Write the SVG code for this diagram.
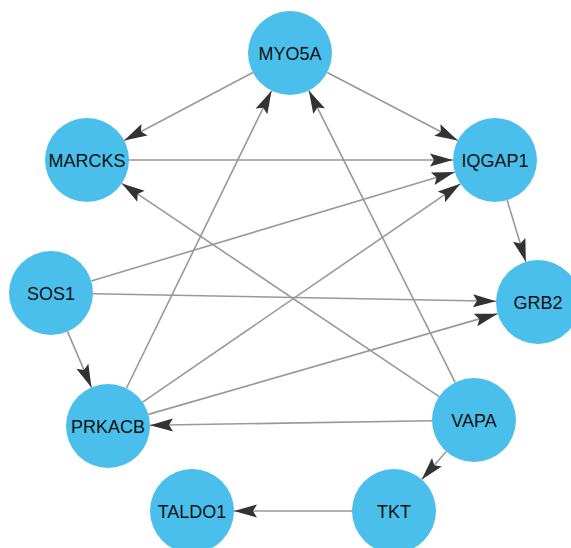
<svg xmlns="http://www.w3.org/2000/svg" width="571" height="548" viewBox="0 0 571 548">
<style>
.node circle{fill:#4ABFEB;}
.node text{font-family:"Liberation Sans",Arial,Helvetica,sans-serif;font-size:18px;fill:#111;text-anchor:middle;}
.edges line{stroke:#999;stroke-width:1.6;fill:none;marker-end:url(#arrow);}
</style>
<defs>
<marker id="arrow" viewBox="-24 -8 26 16" refX="0" refY="0" markerWidth="26" markerHeight="16" markerUnits="userSpaceOnUse" orient="auto">
<path d="M0,0 L-23,-6.5 L-19,0 L-23,6.5 Z" fill="#333"/>
</marker>
</defs>
<rect width="571" height="548" fill="#fff"/>
<g id="edges" class="edges">
<line x1="252.85" y1="72.58" x2="124.15" y2="140.42"/>
<line x1="327.23" y1="72.43" x2="457.77" y2="140.57"/>
<line x1="129" y1="160" x2="453" y2="160"/>
<line x1="91.24" y1="280.95" x2="454.76" y2="172.05"/>
<line x1="142.61" y1="402.21" x2="460.39" y2="183.79"/>
<line x1="507.17" y1="200.2" x2="525.83" y2="261.8"/>
<line x1="92.99" y1="293.78" x2="496.01" y2="301.22"/>
<line x1="148.36" y1="414.36" x2="497.64" y2="313.64"/>
<line x1="67.54" y1="331.6" x2="91.46" y2="387.4"/>
<line x1="126.42" y1="388.25" x2="271.58" y2="90.75"/>
<line x1="455.18" y1="382.45" x2="308.82" y2="90.55"/>
<line x1="439.14" y1="396.58" x2="121.86" y2="183.42"/>
<line x1="432.01" y1="420.69" x2="149.99" y2="425.31"/>
<line x1="446.27" y1="451.54" x2="421.73" y2="479.46"/>
<line x1="352" y1="511" x2="234" y2="511"/>
</g>
<g id="MYO5A" class="node"><circle cx="290" cy="53" r="42"/><text x="290" y="59.5">MYO5A</text></g>
<g id="MARCKS" class="node"><circle cx="87" cy="160" r="42"/><text x="87" y="166.5">MARCKS</text></g>
<g id="IQGAP1" class="node"><circle cx="495" cy="160" r="42"/><text x="495" y="166.5">IQGAP1</text></g>
<g id="SOS1" class="node"><circle cx="51" cy="293" r="42"/><text x="51" y="299.5">SOS1</text></g>
<g id="GRB2" class="node"><circle cx="538" cy="302" r="42"/><text x="538" y="308.5">GRB2</text></g>
<g id="PRKACB" class="node"><circle cx="108" cy="426" r="42"/><text x="108" y="432.5">PRKACB</text></g>
<g id="VAPA" class="node"><circle cx="474" cy="420" r="42"/><text x="474" y="426.5">VAPA</text></g>
<g id="TKT" class="node"><circle cx="394" cy="511" r="42"/><text x="394" y="517.5">TKT</text></g>
<g id="TALDO1" class="node"><circle cx="192" cy="511" r="42"/><text x="192" y="517.5">TALDO1</text></g>
</svg>
